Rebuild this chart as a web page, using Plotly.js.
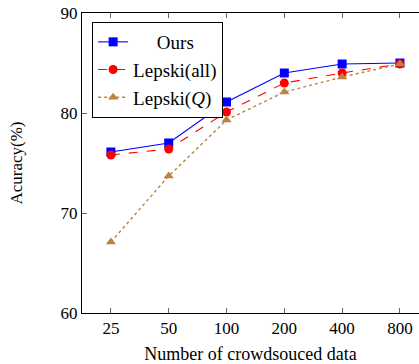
<!DOCTYPE html>
<html>
<head>
<meta charset="utf-8">
<script src="https://cdn.plot.ly/plotly-3.0.1.min.js"></script>
<style>html,body{margin:0;padding:0;background:#fff;overflow:hidden}</style>
</head>
<body>
<div id="chart" style="width:419px;height:364px"></div>
<script>
const categories = ["25", "50", "100", "200", "400", "800"];
const ours = [76.1, 77.0, 81.1, 84.0, 84.9, 85.0];
const lepskiAll = [75.8, 76.4, 80.1, 83.0, 84.0, 84.9];
const lepskiQ = [67.1, 73.7, 79.3, 82.1, 83.6, 84.9];
const yTicks = [60, 70, 80, 90];

const NB = "\u00a0";
const fam = "Liberation Serif, DejaVu Serif, serif";

const traces = [
  {x: categories, y: ours, name: NB.repeat(5) + "Ours", type: "scatter", mode: "lines+markers",
   line: {color: "#0000ff", width: 1.1}, marker: {symbol: "square", size: 9, color: "#0000ff"}},
  {x: categories, y: lepskiAll, name: "Lepski(all)", type: "scatter", mode: "lines+markers",
   line: {color: "#ff0000", width: 1.1, dash: "dash"}, marker: {symbol: "circle", size: 9, color: "#ff0000"}},
  {x: categories, y: lepskiQ, name: "Lepski(<i>Q</i>)", type: "scatter", mode: "lines+markers",
   line: {color: "#bf8040", width: 1.4, dash: "dot"}, marker: {symbol: "triangle-up", size: 9, color: "#bf8040"}}
];

const layout = {
  width: 419, height: 364,
  margin: {l: 82, r: 0, t: 13, b: 51},
  paper_bgcolor: "#fff", plot_bgcolor: "#fff",
  font: {family: fam, size: 16, color: "#000"},
  showlegend: true,
  legend: {x: 0.03, y: 0.97, xanchor: "left", yanchor: "top", bgcolor: "#fff",
           bordercolor: "#000", borderwidth: 1, font: {family: fam, size: 19, color: "#000"},
           tracegroupgap: 0, itemwidth: 30},
  xaxis: {type: "category", range: [-0.5, 5.33], autorange: false,
          showline: true, linecolor: "#000", linewidth: 1, mirror: "ticks",
          ticks: "inside", ticklen: 5, tickcolor: "#666", showgrid: false, zeroline: false,
          tickfont: {family: fam, size: 17, color: "#000"},
          title: {text: "Number of crowdsouced data", font: {family: fam, size: 18, color: "#000"}, standoff: 11}},
  yaxis: {range: [60, 90], autorange: false, tickvals: yTicks,
          showline: true, linecolor: "#000", linewidth: 1, mirror: false,
          ticks: "inside", ticklen: 5, tickcolor: "#666", showgrid: false, zeroline: false,
          tickfont: {family: fam, size: 17, color: "#000"},
          title: {text: "Acuracy(%)", font: {family: fam, size: 17, color: "#000"}, standoff: 33}}
};

Plotly.newPlot("chart", traces, layout, {displayModeBar: false, staticPlot: true});
</script>
</body>
</html>
